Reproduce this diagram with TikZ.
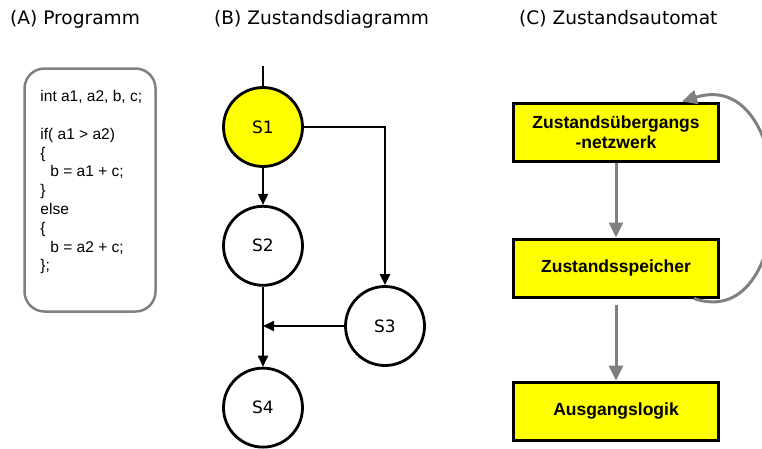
\documentclass[tikz,border=0pt]{standalone}
\usepackage{fontspec}
\setmainfont{DejaVu Sans}
\newfontfamily\codefont{Liberation Sans}
\usetikzlibrary{arrows.meta,positioning,calc}
\definecolor{zustandgelb}{RGB}{255,255,0}
\definecolor{rahmengrau}{RGB}{128,128,128}
\tikzset{
  titel/.style={anchor=base west,inner sep=0pt,font=\fontsize{18.6}{22}\selectfont},
  codebox/.style={draw=rahmengrau,line width=2.5pt,rounded corners=20pt,
    minimum width=131pt,minimum height=243pt},
  code/.style={align=left,inner sep=0pt,font=\codefont\fontsize{15.5}{18.8}\selectfont},
  zustand/.style={circle,draw,line width=2.8pt,minimum size=79pt,inner sep=0pt,
    font=\fontsize{17}{20}\selectfont},
  startzustand/.style={zustand,fill=zustandgelb},
  block/.style={draw,fill=zustandgelb,line width=3pt,minimum width=205pt,
    minimum height=58pt,align=center,
    font=\codefont\bfseries\fontsize{17.5}{20}\selectfont},
  pfeil/.style={-{Triangle[length=11pt,width=10pt]},line width=1.8pt},
  grauerpfeil/.style={-{Triangle[length=15pt,width=14pt]},color=rahmengrau,
    line width=3pt}
}
\begin{document}
\begin{tikzpicture}[x=1pt,y=-1pt]
\useasboundingbox (0,0) rectangle (762,448);
% Ueberschriften
\node[titel] (titelA) at (10,24) {(A) Programm};
\node[titel] (titelB) at (214,24) {(B) Zustandsdiagramm};
\node[titel] (titelC) at (519,24) {(C) Zustandsautomat};

% (A) Quelltext
\node[codebox] (programm) at (90,190) {};
\node[code,anchor=north west] (quelltext) at ($(programm.north west)+(17,23)$)
  {int a1, a2, b, c;\\[18.8pt]
   if( a1 > a2)\\
   \{\\
   \hspace*{10pt}b = a1 + c;\\
   \}\\
   else\\
   \{\\
   \hspace*{10pt}b = a2 + c;\\
   \};};

% (B) Zustaende
\node[startzustand] (s1) at (263,127) {S1};
\node[zustand,below=37pt of s1] (s2) {S2};
\node[zustand,below=80pt of s2] (s4) {S4};
\node[zustand] (s3) at (385,326) {S3};
\coordinate (eingang) at (263,66);
\coordinate (zusammen) at (s2 |- s3);
\draw[line width=1.8pt] (eingang) -- (s1);
\draw[pfeil] (s1) -- (s2);
\draw[pfeil,line width=2.8pt] (s1) -| (s3);
\draw[pfeil] (s2) -- (s4);
\draw[pfeil] (s3) -- (zusammen);

% (C) Automat
\node[block] (uebergang) at (616,132) {Zustandsübergangs\\-netzwerk};
\node[block,below=75pt of uebergang] (speicher) {Zustandsspeicher};
\node[block,below=82pt of speicher] (logik) {Ausgangslogik};
\draw[grauerpfeil] (uebergang) -- (speicher);
\draw[grauerpfeil] ($(speicher.south)+(0,6)$) -- (logik);
\draw[grauerpfeil] ($(speicher.south east)+(-26,0)$)
  .. controls (800,335) and (800,65) .. ($(uebergang.north east)+(-38,0)$);
\end{tikzpicture}
\end{document}
